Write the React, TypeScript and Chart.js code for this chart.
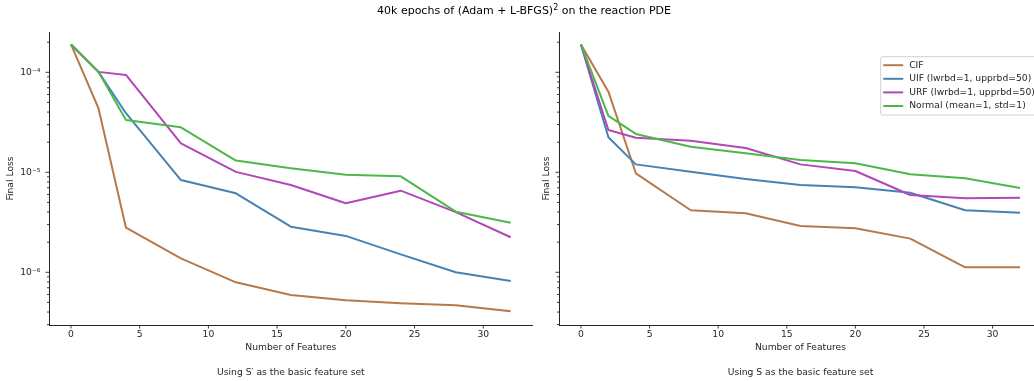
import React, { useEffect, useRef } from 'react';
import { Chart, registerables } from 'chart.js';

Chart.register(...registerables);

const features = [0, 2, 4, 8, 12, 16, 20, 24, 28, 32];
const xTickValues = [0, 5, 10, 15, 20, 25, 30];
const yTickValues = [
  3e-7, 4e-7, 5e-7, 6e-7, 7e-7, 8e-7, 9e-7,
  1e-6, 2e-6, 3e-6, 4e-6, 5e-6, 6e-6, 7e-6, 8e-6, 9e-6,
  1e-5, 2e-5, 3e-5, 4e-5, 5e-5, 6e-5, 7e-5, 8e-5, 9e-5,
  1e-4, 2e-4,
];
const yMajorLabels: Record<string, string> = { '1e-4': '10\u207B\u2074', '1e-5': '10\u207B\u2075', '1e-6': '10\u207B\u2076' };

const seriesLabels = ['CIF', 'UIF (lwrbd=1, upprbd=50)', 'URF (lwrbd=1, upprbd=50)', 'Normal (mean=1, std=1)'];
const seriesColors = ['#b7794a', '#4682b4', '#b247b8', '#4cb84a'];

const leftCIF = [1.9e-4, 4.37e-5, 2.79e-6, 1.38e-6, 7.94e-7, 5.93e-7, 5.25e-7, 4.9e-7, 4.68e-7, 4.07e-7];
const leftUIF = [1.9e-4, 1.01e-4, 3.9e-5, 8.37e-6, 6.16e-6, 2.86e-6, 2.31e-6, 1.51e-6, 1.0e-6, 8.18e-7];
const leftURF = [1.9e-4, 1.01e-4, 9.4e-5, 1.95e-5, 1.01e-5, 7.46e-6, 4.9e-6, 6.55e-6, 4.0e-6, 2.24e-6];
const leftNormal = [1.9e-4, 1.01e-4, 3.33e-5, 2.82e-5, 1.31e-5, 1.1e-5, 9.46e-6, 9.12e-6, 4.04e-6, 3.13e-6];

const rightCIF = [1.9e-4, 6.4e-5, 9.77e-6, 4.17e-6, 3.89e-6, 2.9e-6, 2.75e-6, 2.17e-6, 1.12e-6, 1.12e-6];
const rightUIF = [1.9e-4, 2.24e-5, 1.2e-5, 1.01e-5, 8.57e-6, 7.46e-6, 7.08e-6, 6.25e-6, 4.17e-6, 3.95e-6];
const rightURF = [1.9e-4, 2.65e-5, 2.22e-5, 2.07e-5, 1.75e-5, 1.2e-5, 1.03e-5, 5.93e-6, 5.5e-6, 5.57e-6];
const rightNormal = [1.9e-4, 3.66e-5, 2.42e-5, 1.8e-5, 1.55e-5, 1.33e-5, 1.23e-5, 9.55e-6, 8.7e-6, 6.97e-6];

const xLabel = 'Number of Features';
const yLabel = 'Final Loss';
const leftSubtitle = 'Using S\u2032 as the basic feature set';
const rightSubtitle = 'Using S as the basic feature set';
const figTitle = '40k epochs of (Adam + L-BFGS)';
const figTitleTail = ' on the reaction PDE';

const FONT = '"DejaVu Sans", sans-serif';
const INK = '#262626';
const FS = 9.2;

const isPow10 = (v: number) => Math.abs(Math.log10(v) - Math.round(Math.log10(v))) < 1e-6;

const tickPlugin = {
  id: 'mplTicks',
  afterDraw(chart: any) {
    const ctx = chart.ctx;
    const xs = chart.scales.x;
    const ys = chart.scales.y;
    const area = chart.chartArea;
    ctx.save();
    ctx.strokeStyle = INK;
    ctx.lineWidth = 0.9;
    ctx.beginPath();
    for (const t of ys.ticks) {
      const p = ys.getPixelForValue(t.value);
      const len = isPow10(t.value) ? 3.5 : 2;
      ctx.moveTo(area.left - len, p);
      ctx.lineTo(area.left, p);
    }
    for (const t of xs.ticks) {
      const p = xs.getPixelForValue(t.value);
      ctx.moveTo(p, area.bottom);
      ctx.lineTo(p, area.bottom + 3.5);
    }
    ctx.stroke();
    ctx.restore();
  },
};

const legendPlugin = {
  id: 'mplLegend',
  afterDraw(chart: any) {
    const opts = chart.options.plugins.mplLegend;
    if (!opts || !opts.show) return;
    const ctx = chart.ctx;
    const { left, top, width, height, rowStart, rowStep } = opts;
    ctx.save();
    ctx.beginPath();
    const r = 2;
    ctx.moveTo(left + r, top);
    ctx.lineTo(left + width - r, top);
    ctx.arcTo(left + width, top, left + width, top + r, r);
    ctx.lineTo(left + width, top + height - r);
    ctx.arcTo(left + width, top + height, left + width - r, top + height, r);
    ctx.lineTo(left + r, top + height);
    ctx.arcTo(left, top + height, left, top + height - r, r);
    ctx.lineTo(left, top + r);
    ctx.arcTo(left, top, left + r, top, r);
    ctx.closePath();
    ctx.fillStyle = 'rgba(255,255,255,0.8)';
    ctx.fill();
    ctx.strokeStyle = '#d0d0d0';
    ctx.lineWidth = 1;
    ctx.stroke();
    ctx.font = FS + 'px ' + FONT;
    ctx.textBaseline = 'middle';
    ctx.textAlign = 'left';
    seriesLabels.forEach((lab, i) => {
      const y = rowStart + i * rowStep;
      ctx.strokeStyle = seriesColors[i];
      ctx.lineWidth = 2;
      ctx.beginPath();
      ctx.moveTo(left + 2.5, y);
      ctx.lineTo(left + 22.5, y);
      ctx.stroke();
      ctx.fillStyle = INK;
      ctx.fillText(lab, left + 28.5, y);
    });
    ctx.restore();
  },
};

type PanelProps = {
  left: number;
  width: number;
  series: number[][];
  yAxisWidth: number;
  padRight: number;
  yTitlePad: number;
  showYLabels: boolean;
  subtitle: string;
  legend: boolean;
};

function Panel(props: PanelProps) {
  const ref = useRef<HTMLCanvasElement | null>(null);
  useEffect(() => {
    const canvas = ref.current;
    if (!canvas) return;
    const datasets = props.series.map((vals, i) => ({
      label: seriesLabels[i],
      data: features.map((f, k) => ({ x: f, y: vals[k] })),
      borderColor: seriesColors[i],
      backgroundColor: seriesColors[i],
      borderWidth: 2,
      pointRadius: 0,
      tension: 0,
      fill: false,
      borderJoinStyle: 'round' as const,
      order: 3 - i,
    }));
    const chart = new Chart(canvas, {
      type: 'line',
      data: { datasets },
      plugins: [tickPlugin, legendPlugin],
      options: {
        animation: false,
        responsive: false,
        devicePixelRatio: 1,
        layout: { padding: { top: 32, right: props.padRight, left: 0, bottom: 0 } },
        plugins: {
          legend: { display: false },
          tooltip: { enabled: false },
          title: { display: false },
          mplLegend: {
            show: props.legend,
            left: 880.7 - props.left,
            top: 56.7,
            width: 200,
            height: 58.3,
            rowStart: 65.2,
            rowStep: 13.6,
          },
        } as any,
        scales: {
          x: {
            type: 'linear',
            min: -1.6,
            max: 33.6,
            grid: { display: false, drawTicks: false },
            border: { display: true, color: INK, width: 1 },
            afterBuildTicks: (scale: any) => {
              scale.ticks = xTickValues.map((v) => ({ value: v }));
            },
            afterFit: (scale: any) => {
              scale.height = 56;
            },
            ticks: {
              autoSkip: false,
              maxRotation: 0,
              padding: 4.5,
              color: INK,
              font: { family: FONT, size: FS },
              callback: (v: any) => String(v),
            },
            title: {
              display: true,
              text: [xLabel, '', props.subtitle],
              color: INK,
              font: { family: FONT, size: FS, lineHeight: '12.5px' },
              padding: { top: 0, bottom: 1.8 },
            },
          },
          y: {
            type: 'logarithmic',
            min: 2.97e-7,
            max: 2.53e-4,
            grid: { display: false, drawTicks: false },
            border: { display: true, color: INK, width: 1 },
            afterBuildTicks: (scale: any) => {
              scale.ticks = yTickValues.map((v) => ({ value: v }));
            },
            afterFit: (scale: any) => {
              scale.width = props.yAxisWidth;
            },
            ticks: {
              display: props.showYLabels,
              autoSkip: false,
              padding: 8.5,
              color: INK,
              font: { family: FONT, size: FS },
              callback: (v: any) => {
                const key = Number(v).toExponential(0);
                return yMajorLabels[key] ?? '';
              },
            },
            title: {
              display: true,
              text: yLabel,
              color: INK,
              font: { family: FONT, size: FS, lineHeight: '12px' },
              padding: { top: props.yTitlePad, bottom: 0 },
            },
          },
        },
      },
    });
    return () => chart.destroy();
  }, []);
  return (
    <canvas
      ref={ref}
      width={props.width}
      height={381}
      style={{ position: 'absolute', left: props.left, top: 0, width: props.width, height: 381 }}
    />
  );
}

export default function App() {
  return (
    <div
      style={{
        position: 'fixed',
        left: 0,
        top: 0,
        width: 1034,
        height: 381,
        overflow: 'hidden',
        background: '#ffffff',
        fontFamily: FONT,
      }}
    >
      <Panel
        left={0}
        width={534}
        series={[leftCIF, leftUIF, leftURF, leftNormal]}
        yAxisWidth={49}
        padRight={1.3}
        yTitlePad={4.7}
        showYLabels={true}
        subtitle={leftSubtitle}
        legend={false}
      />
      <Panel
        left={534}
        width={520}
        series={[rightCIF, rightUIF, rightURF, rightNormal]}
        yAxisWidth={25}
        padRight={12}
        yTitlePad={6.7}
        showYLabels={false}
        subtitle={rightSubtitle}
        legend={true}
      />
      <div
        style={{
          position: 'absolute',
          left: 0,
          top: 3,
          width: 1048,
          textAlign: 'center',
          fontSize: 11,
          lineHeight: '16px',
          color: '#000',
          whiteSpace: 'nowrap',
        }}
      >
        {figTitle}
        <span style={{ fontSize: 8, position: 'relative', top: -4.5 }}>2</span>
        {figTitleTail}
      </div>
    </div>
  );
}
